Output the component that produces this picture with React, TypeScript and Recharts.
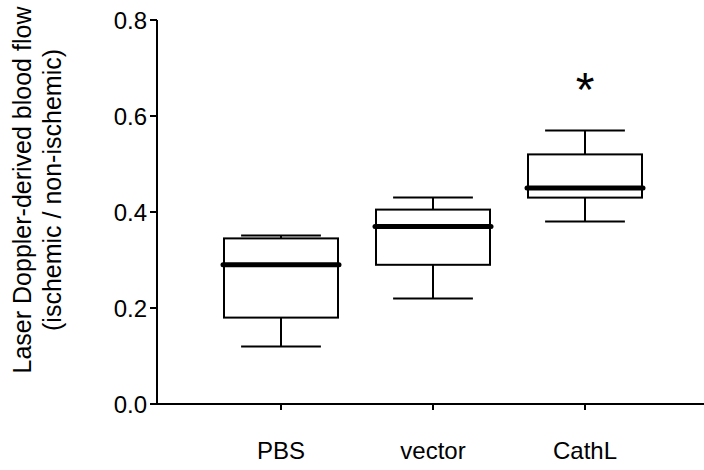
import { ComposedChart, Bar, Scatter, XAxis, YAxis } from 'recharts';

const categories = ['PBS', 'vector', 'CathL'];
const minVals = [0.12, 0.22, 0.38];
const q1Vals = [0.18, 0.29, 0.43];
const medianVals = [0.29, 0.37, 0.45];
const q3Vals = [0.345, 0.405, 0.52];
const maxVals = [0.351, 0.43, 0.57];
const sigMarks = [null, null, 0.67];
const yTicks = [0, 0.2, 0.4, 0.6, 0.8];

// stacked segments: invisible base, lower whisker, lower box, upper box, upper whisker
const data = categories.map((name, i) => ({
  name,
  base: minVals[i],
  lowW: q1Vals[i] - minVals[i],
  lowBox: medianVals[i] - q1Vals[i],
  highBox: q3Vals[i] - medianVals[i],
  highW: maxVals[i] - q3Vals[i],
  sig: sigMarks[i],
}));

const font = 'Liberation Sans, Arial, sans-serif';

const LowWhisker = (props: any) => {
  const { x, y, width, height } = props;
  const cx = x + width / 2;
  const cap = width * 0.35;
  return (
    <g>
      <line x1={cx} y1={y} x2={cx} y2={y + height} stroke="#000" strokeWidth={2} />
      <line x1={cx - cap} y1={y + height} x2={cx + cap} y2={y + height} stroke="#000" strokeWidth={2} />
    </g>
  );
};

const HighWhisker = (props: any) => {
  const { x, y, width, height } = props;
  const cx = x + width / 2;
  const cap = width * 0.35;
  return (
    <g>
      <line x1={cx} y1={y} x2={cx} y2={y + height} stroke="#000" strokeWidth={2} />
      <line x1={cx - cap} y1={y} x2={cx + cap} y2={y} stroke="#000" strokeWidth={2} />
    </g>
  );
};

const LowBox = (props: any) => {
  const { x, y, width, height } = props;
  return <rect x={x} y={y} width={width} height={height} fill="#fff" stroke="#000" strokeWidth={2} />;
};

const HighBox = (props: any) => {
  const { x, y, width, height } = props;
  return (
    <g>
      <rect x={x} y={y} width={width} height={height} fill="#fff" stroke="#000" strokeWidth={2} />
      <line x1={x - 1} y1={y + height} x2={x + width + 1} y2={y + height} stroke="#000" strokeWidth={5} strokeLinecap="round" />
    </g>
  );
};

const Star = (props: any) => {
  const { cx, cy, payload } = props;
  if (payload.sig == null) return null;
  return (
    <text x={cx} y={cy} dy="0.5em" textAnchor="middle" fontSize={48} fontFamily={font} fill="#000">
      *
    </text>
  );
};

const YLabel = () => (
  <g>
    <text x={22} y={190} transform="rotate(-90 22 190)" textAnchor="middle" dominantBaseline="central" fontSize={25} fontFamily={font} fill="#000">
      Laser Doppler-derived blood flow
    </text>
    <text x={52} y={190} transform="rotate(-90 52 190)" textAnchor="middle" dominantBaseline="central" fontSize={25} fontFamily={font} fill="#000">
      (ischemic / non-ischemic)
    </text>
  </g>
);

export default function App() {
  return (
    <div style={{ position: 'absolute', left: 0, top: 0, background: '#fff' }}>
      <ComposedChart width={704} height={470} data={data} margin={{ top: 20, right: 0, bottom: 0, left: 0 }}>
        <XAxis
          dataKey="name"
          height={66}
          padding={{ left: 48, right: 43 }}
          axisLine={{ stroke: '#000', strokeWidth: 2 }}
          tickLine={{ stroke: '#000', strokeWidth: 2 }}
          tickSize={6}
          tickMargin={32}
          tick={{ fill: '#000', fontSize: 24, fontFamily: font }}
        />
        <YAxis
          width={157}
          domain={[0, 0.8]}
          ticks={yTicks}
          tickFormatter={(v: number) => v.toFixed(1)}
          axisLine={{ stroke: '#000', strokeWidth: 2 }}
          tickLine={{ stroke: '#000', strokeWidth: 2 }}
          tickSize={7}
          tickMargin={3}
          tick={{ fill: '#000', fontSize: 24, fontFamily: font }}
          label={<YLabel />}
        />
        <Bar dataKey="base" stackId="box" barSize={114} fill="none" shape={() => null} isAnimationActive={false} />
        <Bar dataKey="lowW" stackId="box" barSize={114} shape={LowWhisker} isAnimationActive={false} />
        <Bar dataKey="lowBox" stackId="box" barSize={114} shape={LowBox} isAnimationActive={false} />
        <Bar dataKey="highBox" stackId="box" barSize={114} shape={HighBox} isAnimationActive={false} />
        <Bar dataKey="highW" stackId="box" barSize={114} shape={HighWhisker} isAnimationActive={false} />
        <Scatter dataKey="sig" shape={Star} isAnimationActive={false} />
      </ComposedChart>
    </div>
  );
}
